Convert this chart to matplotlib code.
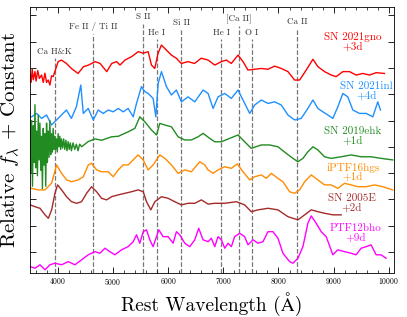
import matplotlib
matplotlib.use("Agg")
import matplotlib.pyplot as plt
from matplotlib.ticker import MultipleLocator, NullFormatter

plt.rcParams["font.family"] = ["cmr10", "STIXGeneral"]
plt.rcParams["mathtext.fontset"] = "cm"
plt.rcParams["axes.formatter.use_mathtext"] = True

# spectra (flux already includes the vertical offset)
wave_gno = [3500, 3520, 3540, 3560, 3590, 3610, 3640, 3670, 3710, 3740, 3770, 3800,
            3830, 3860, 3890, 3920, 4010, 4070, 4160, 4250, 4370, 4470, 4560, 4680,
            4770, 4890, 4980, 5070, 5130, 5220, 5340, 5460, 5550, 5640, 5700, 5760,
            5820, 5880, 5970, 6060, 6150, 6240, 6360, 6480, 6600, 6725, 6846, 6966,
            7056, 7146, 7268, 7358, 7448, 7569, 7689, 7810, 7931, 8051, 8172, 8293,
            8383, 8503, 8624, 8714, 8835, 8955, 9045, 9166, 9287, 9407, 9528, 9649,
            9769, 9920]
flux_gno = [6.73, 6.45, 6.95, 6.55, 6.86, 6.50, 6.90, 6.60, 6.73, 6.45, 6.80, 6.45,
            6.54, 6.35, 6.70, 6.67, 7.24, 7.30, 7.17, 6.98, 6.79, 7.05, 7.11, 7.24,
            7.17, 6.86, 7.17, 7.24, 7.11, 7.30, 7.43, 7.62, 7.56, 7.62, 7.11, 6.98,
            7.56, 7.87, 7.68, 7.49, 7.37, 7.17, 7.24, 7.17, 7.37, 7.30, 7.11, 7.24,
            7.30, 7.17, 7.49, 7.24, 6.92, 6.95, 6.98, 6.95, 7.07, 6.98, 6.86, 6.54,
            6.54, 6.92, 7.33, 7.05, 6.86, 6.73, 6.67, 6.86, 6.86, 6.73, 6.79, 6.73,
            6.82, 6.79]

wave_inl = [3530, 3620, 3710, 3800, 3890, 3980, 4070, 4160, 4250, 4340, 4420, 4465,
            4555, 4646, 4736, 4826, 4917, 5007, 5098, 5188, 5278, 5369, 5429, 5519,
            5580, 5640, 5730, 5779, 5821, 5881, 5971, 6062, 6152, 6242, 6363, 6484,
            6635, 6725, 6816, 6906, 7027, 7146, 7268, 7358, 7479, 7569, 7689, 7810,
            7931, 8051, 8172, 8293, 8412, 8533, 8624, 8714, 8804, 8895, 8985, 9075,
            9166, 9256, 9347, 9467, 9588, 9709, 9799, 9848]
flux_inl = [5.14, 5.27, 5.08, 5.21, 4.83, 5.02, 5.21, 5.40, 5.08, 5.52, 6.35, 5.27,
            5.46, 5.02, 5.40, 5.27, 5.40, 5.33, 5.46, 5.33, 5.46, 5.14, 5.65, 6.29,
            6.10, 6.03, 5.84, 5.14, 6.41, 6.86, 6.29, 5.97, 6.16, 5.71, 5.90, 5.71,
            6.16, 6.03, 5.46, 5.90, 6.03, 5.84, 6.16, 5.78, 5.27, 5.59, 5.78, 5.65,
            5.71, 5.59, 5.21, 5.02, 5.08, 5.46, 5.78, 5.46, 5.33, 5.21, 5.08, 5.52,
            6.03, 5.90, 5.40, 5.27, 5.27, 5.14, 5.71, 5.40]

wave_ehk = [3500, 3515, 3530, 3545, 3560, 3575, 3590, 3605, 3620, 3635, 3650, 3665,
            3680, 3695, 3710, 3725, 3740, 3755, 3770, 3785, 3800, 3815, 3830, 3845,
            3860, 3875, 3890, 3905, 3920, 3935, 3950, 3965, 3980, 3995, 4010, 4025,
            4040, 4055, 4070, 4090, 4110, 4130, 4150, 4170, 4190, 4210, 4230, 4250,
            4280, 4310, 4340, 4370, 4400, 4434, 4555, 4676, 4800, 4977, 5100, 5278,
            5399, 5489, 5580, 5700, 5791, 5851, 5941, 6062, 6182, 6303, 6423, 6544,
            6635, 6755, 6846, 6966, 7117, 7268, 7388, 7508, 7689, 7840, 7991, 8141,
            8262, 8353, 8443, 8533, 8624, 8714, 8835, 8955, 9136, 9316, 9497, 9678,
            9859, 10070]
flux_ehk = [5.40, 3.00, 5.00, 2.50, 4.80, 3.40, 5.60, 3.20, 4.60, 2.90, 5.20, 3.50,
            4.90, 3.10, 4.40, 2.40, 4.70, 3.30, 4.50, 2.50, 4.90, 3.40, 4.60, 3.60,
            5.00, 3.70, 4.50, 3.80, 4.70, 3.90, 4.40, 3.90, 4.30, 3.80, 4.50, 4.00,
            4.40, 3.90, 4.30, 3.95, 4.30, 3.90, 4.25, 3.85, 4.20, 3.90, 4.15, 3.85,
            4.15, 3.90, 4.10, 3.85, 4.10, 4.00, 4.20, 4.30, 4.25, 4.38, 4.40, 4.57,
            4.70, 5.14, 4.95, 4.64, 4.45, 4.89, 4.83, 4.76, 4.38, 4.26, 4.26, 4.38,
            4.51, 4.32, 4.19, 4.19, 4.32, 4.45, 4.19, 3.94, 4.07, 4.07, 4.00, 3.75,
            3.56, 3.43, 3.56, 3.81, 4.00, 3.88, 3.62, 3.56, 3.62, 3.69, 3.62, 3.62,
            3.56, 3.50]

wave_hgs = [3501, 3651, 3772, 3892, 3982, 4072, 4163, 4253, 4374, 4465, 4555, 4615,
            4706, 4796, 4917, 5007, 5098, 5188, 5278, 5369, 5459, 5550, 5640, 5730,
            5851, 5942, 6062, 6183, 6304, 6423, 6575, 6665, 6725, 6816, 6906, 7027,
            7147, 7255, 7358, 7479, 7569, 7689, 7780, 7870, 7991, 8081, 8202, 8293,
            8383, 8474, 8593, 8714, 8835, 8955, 9075, 9196, 9316, 9437, 9588, 9739,
            9889, 10070]
flux_hgs = [2.43, 2.36, 2.36, 2.62, 3.31, 2.99, 2.74, 2.67, 2.74, 2.86, 3.31, 3.37,
            3.12, 3.05, 3.05, 2.86, 3.12, 3.31, 3.31, 3.50, 3.69, 3.50, 3.12, 3.31,
            3.69, 3.56, 3.31, 2.99, 3.12, 3.05, 3.43, 3.31, 3.12, 2.99, 3.12, 3.24,
            3.18, 3.35, 3.05, 2.74, 2.86, 2.93, 2.80, 2.99, 2.80, 2.67, 2.29, 2.23,
            2.36, 2.67, 2.93, 2.74, 2.55, 2.55, 2.42, 2.61, 2.55, 2.48, 2.48, 2.55,
            2.48, 2.36]

wave_05e = [3501, 3591, 3681, 3772, 3832, 3892, 3952, 4000, 4072, 4163, 4253, 4344,
            4434, 4525, 4615, 4706, 4796, 4887, 4977, 5098, 5218, 5339, 5459, 5550,
            5610, 5688, 5761, 5881, 6002, 6122, 6242, 6363, 6484, 6604, 6725, 6846,
            7027, 7237, 7388, 7508, 7629, 7810, 7991, 8172, 8353, 8474, 8593, 8714,
            8835, 8985, 9136]
flux_05e = [1.79, 1.72, 1.66, 1.41, 1.28, 1.60, 2.23, 2.55, 2.36, 2.10, 1.91, 1.85,
            1.91, 2.23, 2.48, 2.29, 2.04, 1.98, 2.10, 2.17, 2.23, 2.29, 2.36, 2.29,
            1.91, 1.60, 1.91, 2.10, 2.04, 1.91, 1.79, 1.85, 1.85, 1.98, 1.82, 1.85,
            1.85, 1.91, 1.79, 1.53, 1.60, 1.66, 1.60, 1.34, 1.22, 1.41, 1.60, 1.53,
            1.47, 1.41, 1.41]

wave_bho = [3501, 3591, 3681, 3772, 3862, 3952, 4072, 4193, 4314, 4434, 4555, 4676,
            4766, 4857, 4947, 5037, 5158, 5278, 5369, 5429, 5489, 5550, 5610, 5670,
            5730, 5791, 5833, 5911, 6002, 6092, 6152, 6212, 6303, 6393, 6484, 6556,
            6635, 6725, 6785, 6846, 6906, 6966, 7027, 7087, 7147, 7207, 7297, 7388,
            7448, 7539, 7629, 7720, 7810, 7900, 7991, 8081, 8202, 8262, 8353, 8443,
            8533, 8593, 8684, 8774, 8865, 8985, 9075, 9196, 9316, 9407, 9497, 9588,
            9678, 9769, 9859, 9949]
flux_bho = [-0.56, -0.62, -0.49, -0.68, -0.49, -0.43, -0.49, -0.37, -0.49, -0.30, -0.11, 0.01,
            -0.05, 0.14, 0.01, -0.11, 0.08, 0.20, 0.39, 0.65, 0.33, 0.77, 0.84, 0.46,
            0.20, 0.58, 0.84, 0.58, 0.58, 0.33, 0.77, 0.65, 0.33, 0.20, 0.46, 0.90,
            0.46, 0.39, 0.52, 0.20, 0.58, 0.46, 0.14, 0.33, 0.20, 0.58, 0.71, 0.58,
            0.27, 0.46, 0.33, 0.39, 0.77, 0.77, 0.52, -0.05, -0.37, -0.43, -0.24, 0.20,
            1.09, 1.37, 1.09, 0.77, 0.58, -0.11, 0.08, 0.01, -0.05, -0.11, 0.14, 0.20,
            0.27, -0.11, -0.11, -0.24]

sn_names = ["SN 2021gno\n+3d", "SN 2021inl\n+4d", "SN 2019ehk\n+1d",
            "iPTF16hgs\n+1d", "SN 2005E\n+2d", "PTF12bho\n+9d"]
sn_colors = ["red", "#1E90FF", "#228B22", "#FF8C00", "#A52A2A", "magenta"]
label_x = [9347, 9600, 9347, 9347, 9330, 9400]
label_y = [7.99, 6.12, 4.41, 3.03, 1.86, 0.72]

line_waves = [3945, 4640, 5545, 5800, 6240, 6960, 7280, 7515, 8340]
line_names = ["Ca H&K", "Fe II / Ti II", "S II", "He I", "Si II",
              "He I", "[Ca II]", "O I", "Ca II"]
line_text_y = [7.62, 8.56, 8.94, 8.35, 8.73, 8.35, 8.84, 8.35, 8.75]

waves = [wave_gno, wave_inl, wave_ehk, wave_hgs, wave_05e, wave_bho]
fluxes = [flux_gno, flux_inl, flux_ehk, flux_hgs, flux_05e, flux_bho]

fig = plt.figure(figsize=(4.07, 3.17), dpi=100)
ax = fig.add_axes([0.0737, 0.139, 0.894, 0.839])

ymin, ymax = -0.8, 9.32
for lw_, name, ty in zip(line_waves, line_names, line_text_y):
    ax.plot([lw_, lw_], [ymin, ty - 0.25], ls="--", color="#777777", lw=0.9, zorder=1)
    ax.text(lw_, ty, name, ha="center", va="center", fontsize=6.5, color="#333333")

for w, f, c in zip(waves, fluxes, sn_colors):
    ax.plot(w, f, color=c, lw=1.0, zorder=2)

for name, x, y, c in zip(sn_names, label_x, label_y, sn_colors):
    ax.text(x, y, name, color=c, ha="center", va="center", fontsize=8,
            linespacing=1.0)

ax.set_xlim(3500, 10090)
ax.set_ylim(ymin, ymax)
ax.xaxis.set_major_locator(MultipleLocator(1000))
ax.xaxis.set_minor_locator(MultipleLocator(200))
ax.yaxis.set_major_locator(MultipleLocator(1))
ax.yaxis.set_major_formatter(NullFormatter())
ax.tick_params(which="both", direction="in", top=True, right=True, labelsize=5.5)
ax.tick_params(which="major", length=4, width=0.6)
ax.tick_params(which="minor", length=2.2, width=0.5)
ax.tick_params(axis="x", pad=2)
for s in ax.spines.values():
    s.set_linewidth(0.6)

ax.set_xlabel("Rest Wavelength (Å)", fontsize=14, labelpad=4)
ax.set_ylabel(r"Relative $f_\lambda$ + Constant", fontsize=15, labelpad=2)

fig.savefig("out.png", dpi=100)
